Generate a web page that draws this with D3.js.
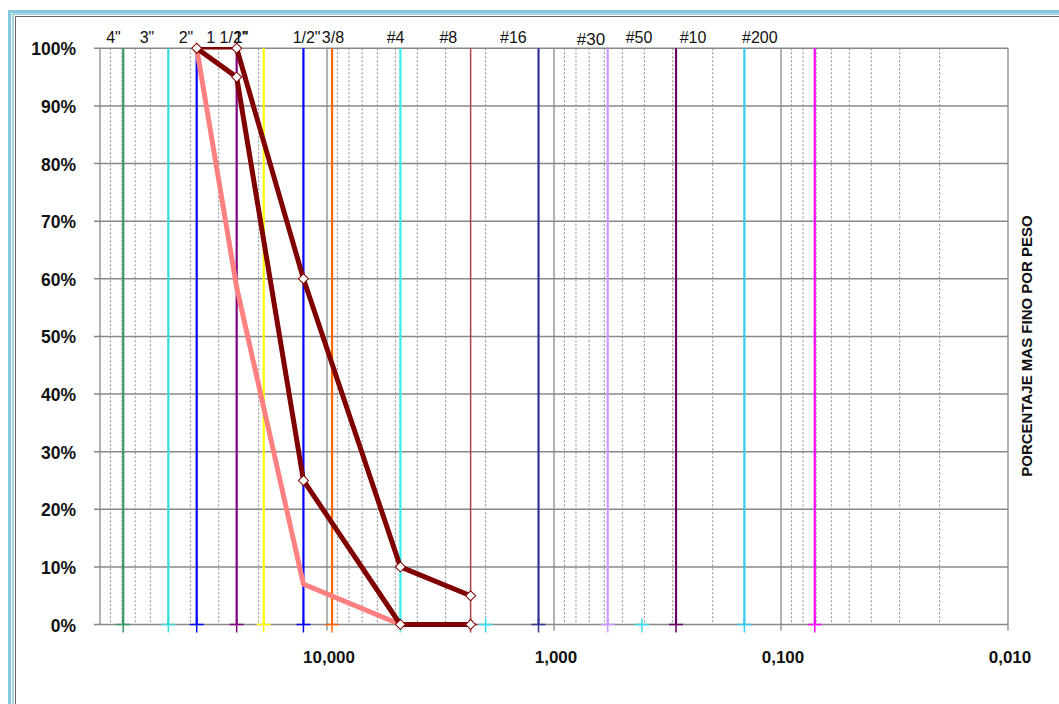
<!DOCTYPE html>
<html>
<head>
<meta charset="utf-8">
<script src="https://cdn.jsdelivr.net/npm/d3@7"></script>
<style>
  body { margin: 0; background: #fff; }
  svg { display: block; }
  text { font-family: Arial, "Liberation Sans", sans-serif; fill: #111; }
</style>
</head>
<body>
<svg id="chart" width="1059" height="704"></svg>
<script>
const width = 1059, height = 704;

const sieveSizes = [79, 50, 37.5, 25, 19, 12.7, 9.5, 4.75, 2.33, 1.17, 0.58, 0.29, 0.145, 0.071];
const sieveColors = ["#339966", "#33dddd", "#0000ff", "#800080", "#ffff00", "#0000ff", "#ff6600",
                     "#33eeee", "#aa4444", "#333399", "#cc99ff", "#660066", "#33ccee", "#ff00ff"];
// tamices sin linea, solo la cruz en 0%
const extraSizes = [2.0, 0.41];
const extraColors = ["#33ddee", "#33ddee"];

// rotulos de tamices (arriba) y su posicion en mm
const topLabels = ['4"', '3"', '2"', '1 1/2"', '1"', '1/2"', '3/8', '#4', '#8', '#16', '#30', '#50', '#10', '#200'];
const topLabelAt = [87.2, 62.1, 41.8, 27.6, 23.9, 12.3, 9.41, 4.99, 2.92, 1.51, 0.687, 0.422, 0.244, 0.124];

const xTickValues = [10, 1, 0.1, 0.01];
const xTickLabels = ["10,000", "1,000", "0,100", "0,010"];
const yTickValues = [0, 10, 20, 30, 40, 50, 60, 70, 80, 90, 100];

// curvas granulometricas
const limInfSize = [37.5, 25, 12.7, 4.75];
const limInfPct  = [100, 58.5, 7, 0];
const curvaASize = [37.5, 25, 12.7, 4.75, 2.33];
const curvaAPct  = [100, 95, 25, 0, 0];
const curvaBSize = [25, 12.7, 4.75, 2.33];
const curvaBPct  = [100, 60, 10, 5];
const topeSize = [37.5, 25];
const topePct  = [100, 100];

const x = d3.scaleLog().domain([100, 0.01]).range([100, 1008]);
const y = d3.scaleLinear().domain([0, 100]).range([624.5, 48.3]);

const svg = d3.select("#chart");

// marco azul
const frame = svg.append("g").attr("fill", "none");
frame.append("path").attr("d", `M9.5,${height}V11.5H${width}`).attr("stroke", "#86c8dc").attr("stroke-width", 3);
frame.append("path").attr("d", `M13,${height}V14H${width}`).attr("stroke", "#86c8dc").attr("stroke-width", 1.5);
frame.append("path").attr("d", `M15.5,${height}V16.5H${width}`).attr("stroke", "#666").attr("stroke-width", 1);

const ticks = x.ticks();
const isDecade = d => Math.abs(Math.log10(d) - Math.round(Math.log10(d))) < 1e-6;

// rejilla secundaria punteada
svg.append("g")
  .selectAll("line")
  .data(ticks.filter(d => !isDecade(d)))
  .join("line")
  .attr("x1", d => x(d)).attr("x2", d => x(d))
  .attr("y1", y(100)).attr("y2", y(0))
  .attr("stroke", "#888").attr("stroke-width", 1).attr("stroke-dasharray", "2,2");

// lineas de decada
svg.append("g")
  .selectAll("line")
  .data(ticks.filter(isDecade))
  .join("line")
  .attr("x1", d => x(d)).attr("x2", d => x(d))
  .attr("y1", y(100)).attr("y2", d => d === 100 ? y(0) : y(0) + 6)
  .attr("stroke", "#999").attr("stroke-width", 1.5);

// rejilla horizontal
svg.append("g")
  .selectAll("line")
  .data(yTickValues)
  .join("line")
  .attr("x1", x(100) - 6).attr("x2", x(0.01))
  .attr("y1", d => y(d)).attr("y2", d => y(d))
  .attr("stroke", "#888").attr("stroke-width", 1.5);

// lineas verticales de tamices
const sieves = sieveSizes.map((s, i) => ({ size: s, color: sieveColors[i] }));
svg.append("g")
  .selectAll("line")
  .data(sieves)
  .join("line")
  .attr("x1", d => x(d.size)).attr("x2", d => x(d.size))
  .attr("y1", y(100)).attr("y2", y(0))
  .attr("stroke", d => d.color)
  .attr("stroke-width", d => d.size === 2.33 ? 1.5 : 2.2);

const crosses = sieves.concat(extraSizes.map((s, i) => ({ size: s, color: extraColors[i] })));
svg.append("g")
  .selectAll("path")
  .data(crosses)
  .join("path")
  .attr("transform", d => `translate(${x(d.size)},${y(0)})`)
  .attr("d", "M-7,0H7M0,-6V8")
  .attr("fill", "none")
  .attr("stroke", d => d.color)
  .attr("stroke-width", 1.5);

// curvas
const line = d3.line().x(d => x(d[0])).y(d => y(d[1]));
const zip = (a, b) => a.map((v, i) => [v, b[i]]);

svg.append("path")
  .datum(zip(limInfSize, limInfPct))
  .attr("d", line)
  .attr("fill", "none").attr("stroke", "#ff8080").attr("stroke-width", 5)
  .attr("stroke-linejoin", "round");

svg.append("path")
  .datum(zip(topeSize, topePct))
  .attr("d", line)
  .attr("fill", "none").attr("stroke", "#800000").attr("stroke-width", 2.5);

[zip(curvaASize, curvaAPct), zip(curvaBSize, curvaBPct)].forEach(pts => {
  svg.append("path")
    .datum(pts)
    .attr("d", line)
    .attr("fill", "none").attr("stroke", "#800000").attr("stroke-width", 5)
    .attr("stroke-linejoin", "round");
});

const marks = zip(curvaASize, curvaAPct).concat(zip(curvaBSize, curvaBPct));
svg.append("g")
  .selectAll("path")
  .data(marks)
  .join("path")
  .attr("transform", d => `translate(${x(d[0])},${y(d[1])}) rotate(45)`)
  .attr("d", d3.symbol(d3.symbolSquare, 50))
  .attr("fill", "#fff").attr("stroke", "#800000").attr("stroke-width", 1);

// rotulos eje Y
svg.append("g")
  .selectAll("text")
  .data(yTickValues)
  .join("text")
  .attr("x", 76).attr("y", d => y(d) + 7)
  .attr("text-anchor", "end")
  .attr("font-size", 17.5).attr("font-weight", "bold")
  .text(d => d + "%");

// rotulos eje X
svg.append("g")
  .selectAll("text")
  .data(xTickValues)
  .join("text")
  .attr("x", d => x(d) + 2).attr("y", y(0) + 38)
  .attr("text-anchor", "middle")
  .attr("font-size", 17).attr("font-weight", "bold")
  .text((d, i) => xTickLabels[i]);

// rotulos de tamices
svg.append("g")
  .selectAll("text")
  .data(topLabels)
  .join("text")
  .attr("x", (d, i) => x(topLabelAt[i]))
  .attr("y", (d, i) => d === "#30" ? 45 : 43)
  .attr("text-anchor", "middle")
  .attr("font-size", (d) => d === "#30" ? 17 : 16)
  .text(d => d);

// titulo eje derecho
svg.append("text")
  .attr("transform", "translate(1032,346) rotate(-90)")
  .attr("text-anchor", "middle")
  .attr("font-size", 15).attr("font-weight", "bold")
  .text("PORCENTAJE MAS FINO POR PESO");
</script>
</body>
</html>
